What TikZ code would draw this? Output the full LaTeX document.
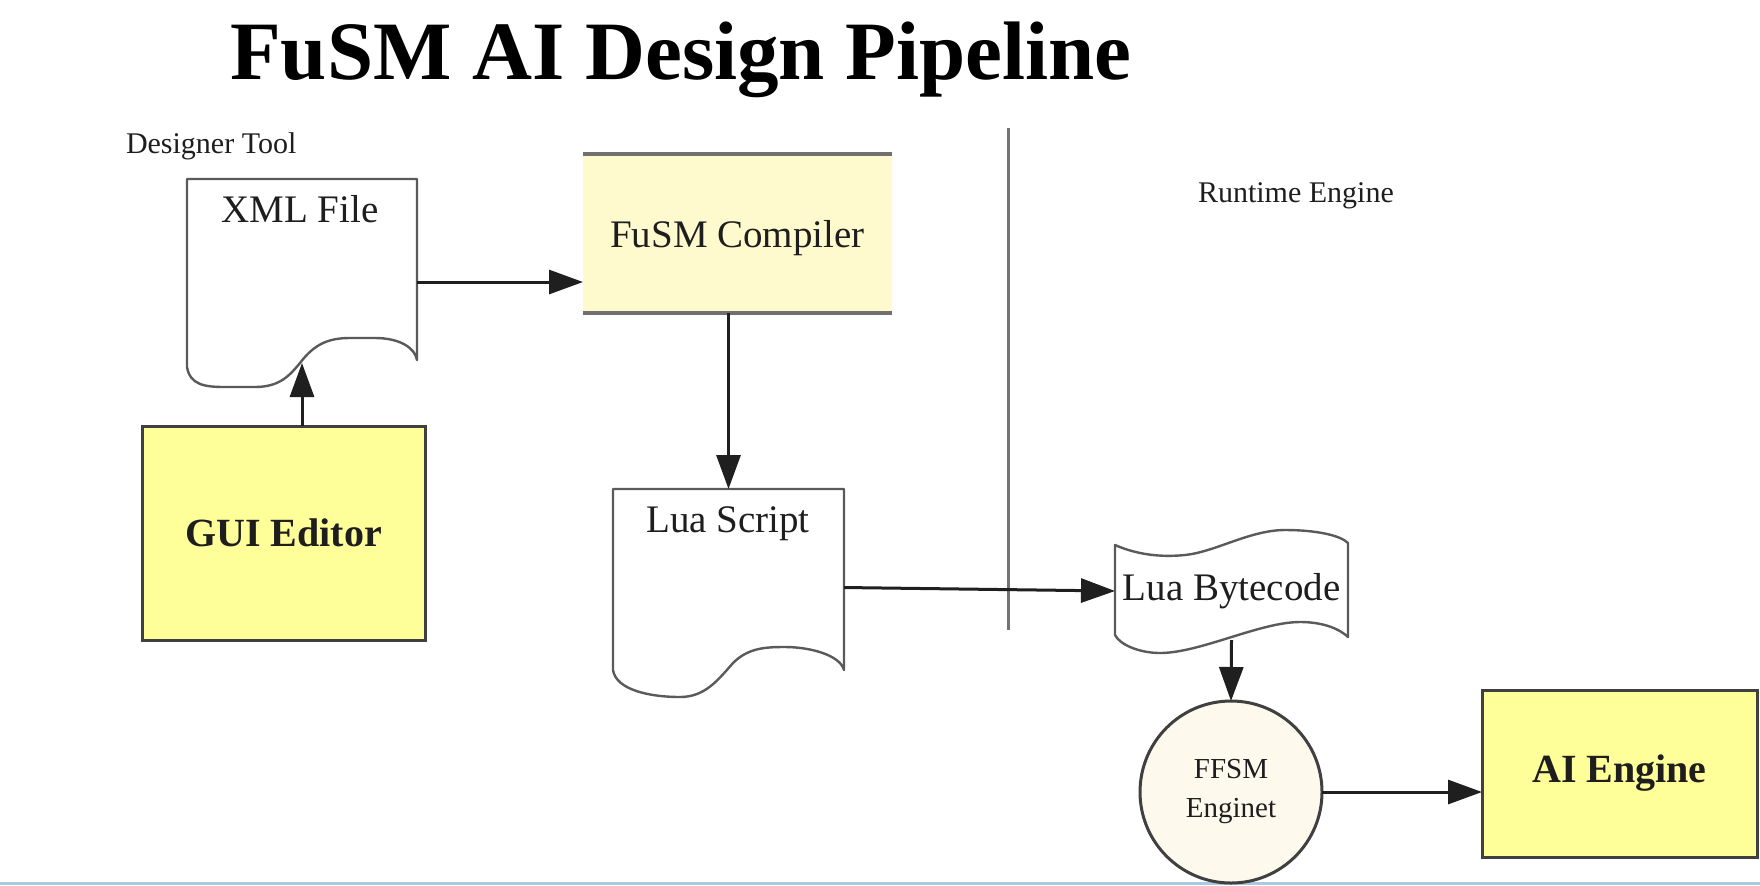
\documentclass[tikz,border=0pt]{standalone}
\usepackage{fontspec}
\setmainfont{Liberation Serif}
\usetikzlibrary{arrows.meta,calc}
\definecolor{compfill}{RGB}{255,250,205}
\definecolor{boxfill}{RGB}{255,255,153}
\definecolor{circfill}{RGB}{253,249,236}
\definecolor{edgecol}{RGB}{64,64,64}
\definecolor{doccol}{RGB}{90,90,90}
\definecolor{sepcol}{RGB}{115,115,115}
\definecolor{barcol}{RGB}{112,112,112}
\definecolor{bottomcol}{RGB}{170,202,226}
\definecolor{txtcol}{RGB}{30,30,30}
\newcommand{\mytitlefont}{\fontsize{41.5}{48}\selectfont\bfseries}
\newcommand{\mylblfont}{\fontsize{19.5}{23}\selectfont}
\newcommand{\myboldfont}{\fontsize{20}{24}\selectfont\bfseries}
\newcommand{\mysmallfont}{\fontsize{15}{18}\selectfont}
\newcommand{\mycircfont}{\fontsize{14.5}{16.5}\selectfont}
\begin{document}
\begin{tikzpicture}[x=0.5pt,y=-0.5pt,
  every node/.style={inner sep=0pt, outer sep=0pt, text=txtcol},
  arr/.style={-{Triangle[length=17pt,width=12pt]}, line width=1.5pt, draw=black!88},
  docline/.style={draw=doccol, line width=1.2pt, line join=round},
  ghost/.style={draw=none, rectangle},
  yellowbox/.style={rectangle, fill=boxfill, draw=edgecol, line width=1.5pt},
  lbl/.style={font=\mylblfont},
]
\useasboundingbox (0,0) rectangle (1760,885);
\fill[white] (0,0) rectangle (1760,885);

% bottom strip line
\coordinate (bl) at (0,883.5);
\coordinate (br) at (1760,883.5);
\draw[bottomcol, line width=1.3pt] (bl) -- (br);

% title and section labels
\node[anchor=base, text=black, font=\mytitlefont] (title) at (681,79) {FuSM AI Design Pipeline};
\node[anchor=base west, font=\mysmallfont] (designer) at (126,153) {Designer Tool};
\node[anchor=base west, font=\mysmallfont] (runtime) at (1198,202) {Runtime Engine};

% separator
\coordinate (septop) at (1008,128);
\coordinate (sepbot) at (1008,630);
\draw[sepcol, line width=1.5pt] (septop) -- (sepbot);

% XML File document
\draw[docline, fill=white] (187,179) -- (417,179) -- (417,360)
  .. controls (415,348) and (400,338) .. (375,338) -- (350,338)
  .. controls (330,338) and (315,343) .. (300,363)
  .. controls (290,375) and (280,387) .. (255,387) -- (225,387)
  .. controls (205,387) and (190,385) .. (187,367) -- cycle;
\node[ghost, minimum width=115pt, minimum height=92pt] (xml) at (302,271) {};
\node[anchor=base, lbl] (xmllbl) at (300,222) {XML File};

% FuSM Compiler
\node[rectangle, fill=compfill, minimum width=154.5pt, minimum height=79.5pt, text depth=0pt, lbl] (comp) at (737.5,233.5) {FuSM Compiler};
\draw[barcol, line width=2.3pt] (comp.north west) -- (comp.north east);
\draw[barcol, line width=2.3pt] (comp.south west) -- (comp.south east);

% GUI Editor
\node[yellowbox, minimum width=141.5pt, minimum height=107pt, font=\myboldfont] (gui) at (283.5,533) {GUI Editor};

% Lua Script document
\draw[docline, fill=white] (613,489) -- (844,489) -- (844,670)
  .. controls (840,655) and (810,647) .. (785,647)
  .. controls (765,647) and (748,648) .. (733,663)
  .. controls (718,680) and (705,697) .. (680,697)
  .. controls (650,697) and (616,690) .. (613,670) -- cycle;
\node[ghost, minimum width=115.5pt, minimum height=90.5pt] (lua) at (728.5,579.5) {};
\node[anchor=base, lbl] (lualbl) at (728,532) {Lua Script};

% Lua Bytecode tape
\draw[docline, fill=white] (1115,545)
  .. controls (1140,556) and (1165,557) .. (1185,555)
  .. controls (1215,552) and (1250,530) .. (1285,530)
  .. controls (1315,530) and (1340,535) .. (1348,543)
  -- (1348,637)
  .. controls (1335,625) and (1315,622) .. (1300,622)
  .. controls (1260,622) and (1200,653) .. (1160,653)
  .. controls (1140,653) and (1120,645) .. (1115,635) -- cycle;
\node[ghost, minimum width=116.5pt, minimum height=49pt, lbl] (bc) at (1231.5,591) {Lua Bytecode};

% FFSM Enginet
\node[circle, fill=circfill, draw=edgecol, line width=1.5pt, minimum size=91pt, align=center, font=\mycircfont] (ffsm) at (1231,792) {FFSM\\[3pt]Enginet};

% AI Engine
\node[yellowbox, minimum width=137.5pt, minimum height=83.5pt, font=\myboldfont] (ai) at (1619.5,773.5) {AI Engine};

% connectors
\draw[arr] ([yshift=-5.5pt]xml.east) -- ([yshift=-5.5pt]xml.east -| comp.west);
\draw[arr] (xml.south |- gui.north) -- (xml.south);
\draw[arr] (lua.north |- comp.south) -- (lua.north);
\draw[arr] ([yshift=-4pt]lua.east) -- (bc.west);
\draw[arr] (bc.south) -- (ffsm.north);
\draw[arr] (ffsm.east) -- (ffsm.east -| ai.west);
\end{tikzpicture}
\end{document}
